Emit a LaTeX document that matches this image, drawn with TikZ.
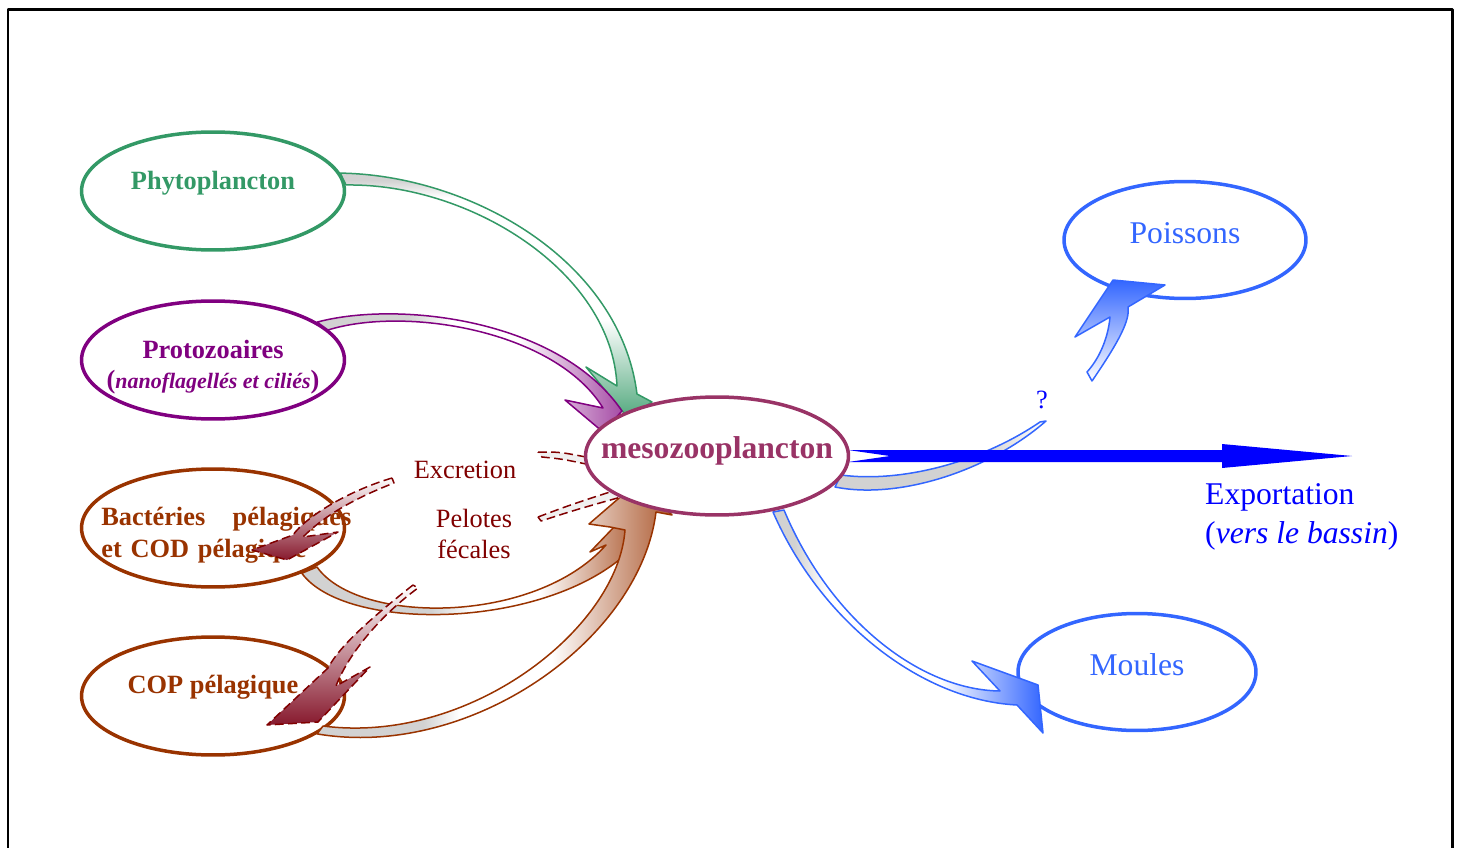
\documentclass[tikz,border=0pt]{standalone}
\usepackage{fontspec}
\setmainfont{Liberation Serif}
\usepackage{tikz}
\usetikzlibrary{shapes.geometric}
\definecolor{phytogreen}{RGB}{51,153,102}
\definecolor{protopurple}{RGB}{128,0,128}
\definecolor{bactbrown}{RGB}{153,51,0}
\definecolor{mesorose}{RGB}{153,51,102}
\definecolor{fishblue}{RGB}{51,102,255}
\definecolor{exportblue}{RGB}{0,0,255}
\definecolor{exred}{RGB}{128,0,0}
\definecolor{headred}{RGB}{135,25,45}
\pgfdeclareverticalshading{phytoflow}{100bp}{color(0bp)=(phytogreen!90); color(25bp)=(phytogreen!85); color(45bp)=(white); color(70bp)=(white); color(73.5bp)=(gray!35); color(100bp)=(gray!35)}
\pgfdeclarehorizontalshading{protoflow}{100bp}{color(0bp)=(gray!35); color(40bp)=(gray!35); color(47bp)=(white); color(58bp)=(white); color(75bp)=(protopurple!70); color(100bp)=(protopurple!70)}
\pgfdeclarehorizontalshading{bactflow}{100bp}{color(0bp)=(gray!35); color(44bp)=(gray!35); color(50bp)=(white); color(60bp)=(white); color(75bp)=(bactbrown!80); color(100bp)=(bactbrown!80)}
\pgfdeclarehorizontalshading{copflow}{100bp}{color(0bp)=(gray!35); color(40bp)=(gray!35); color(45bp)=(white); color(58bp)=(white); color(75bp)=(bactbrown!80); color(100bp)=(bactbrown!80)}
\pgfdeclarehorizontalshading{moulflow}{100bp}{color(0bp)=(gray!35); color(29bp)=(gray!35); color(35bp)=(white); color(56bp)=(white); color(75bp)=(fishblue); color(100bp)=(fishblue)}
\pgfdeclarehorizontalshading{poisflow}{100bp}{color(0bp)=(gray!35); color(60bp)=(gray!35); color(75bp)=(white); color(100bp)=(white)}

\begin{document}
\begin{tikzpicture}[x=0.02cm,y=-0.02cm,line join=round]
  \tikzstyle{compart}=[ellipse,draw,line width=0.07cm,fill=white,minimum width=5.26cm,minimum height=2.36cm,inner sep=0pt]
  \tikzstyle{flow}=[line width=0.03cm,shade]
  \tikzstyle{rejet}=[draw=exred,line width=0.03cm,dash pattern=on 5pt off 2.5pt]
  \tikzstyle{bold}=[font=\fontsize{15}{18}\selectfont\bfseries]
  \tikzstyle{plain}=[font=\fontsize{15}{18}\selectfont,text=exred,align=center]
  \tikzstyle{large}=[font=\fontsize{18}{22}\selectfont]

  \useasboundingbox (0,0) rectangle (1461,848);
  \draw[line width=0.06cm] (8,848) -- (8,10) -- (1452,10) -- (1452,848);

  \node[compart,draw=phytogreen]  (phyto)    at (213,191) {};
  \node[compart,draw=protopurple] (proto)    at (213,360) {};
  \node[compart,draw=bactbrown]   (bact)     at (213,528) {};
  \node[compart,draw=bactbrown]   (cop)      at (213,696) {};
  \node[compart,draw=fishblue,minimum width=4.84cm,minimum height=2.34cm] (poissons) at (1185,240) {};
  \node[compart,draw=fishblue,minimum width=4.76cm,minimum height=2.34cm] (moules)   at (1137,672) {};

  \node[bold,text=phytogreen]  (phytotxt) at (213,183) {Phytoplancton};
  \node[bold,text=protopurple,align=center] (prototxt) at (213,367)
       {Protozoaires\\[-1pt](\textit{\fontsize{12.5}{14}\selectfont nanoflagellés et ciliés})};
  \node[bold,text=bactbrown,anchor=west,text width=5cm,align=left,inner sep=0pt] (bacttxt) at (101,535)
       {Bactéries\hfill pélagiques\hspace*{0.12cm}\\et COD pélagique};
  \node[bold,text=bactbrown]   (coptxt)   at (213,687) {COP pélagique};
  \node[large,text=fishblue]   (poistxt)  at (1185,233) {Poissons};
  \node[large,text=fishblue]   (moultxt)  at (1137,665) {Moules};
  \node[plain] (excr) at (465,470) {Excretion};
  \node[plain] (pelo) at (474,534) {Pelotes\\fécales};
  \node[large,text=exportblue,anchor=west,align=left] (export) at (1199,517) {Exportation\\(\textit{vers le bassin})};
  \node[font=\fontsize{15}{18}\selectfont,text=exportblue] (quest) at (1042,400) {?};

  \draw[flow,draw=phytogreen,shading=phytoflow]
    (phyto.8) .. controls (470,175) and (620,260) .. (637,394) -- (652,402) -- (628,418)
    -- (586,367) -- (617,386) .. controls (612,272) and (470,183) .. (346,185) -- cycle;
  \draw[flow,draw=protopurple,shading=protoflow]
    (proto.20) .. controls (400,300) and (560,320) .. (622,411) -- (603,432) -- (565,400)
    -- (603,408) .. controls (555,330) and (405,306) .. (328,330) -- cycle;
  \draw[flow,draw=bactbrown,shading=bactflow]
    (bact.-27) .. controls (345,632) and (540,630) .. (625,555) -- (642,540) -- (640,500)
    -- (590,552) -- (606,545) .. controls (535,625) and (358,625) .. (317,567) -- cycle;
  \draw[flow,draw=bactbrown,shading=copflow]
    (cop.-20) .. controls (470,760) and (640,640) .. (656,512) -- (672,515) -- (640,480)
    -- (589,524) -- (610,527) -- (625,530) .. controls (618,628) and (470,745) .. (323,726) -- cycle;

  \draw[flow,draw=fishblue,shading=moulflow]
    (773,512) .. controls (820,620) and (920,700) .. (1017,705) -- (1043,733) -- (1038,685)
    -- (972,661) -- (1000,691) .. controls (920,690) and (830,620) .. (784,510) -- cycle;
  \draw[flow,draw=fishblue,shading=poisflow]
    (835,487) .. controls (900,500) and (990,470) .. (1046,421) -- (1040,422)
    .. controls (980,463) and (900,483) .. (841,475) -- cycle;
  \draw[flow,draw=fishblue,bottom color=white,top color=fishblue]
    (1092,381) .. controls (1120,340) and (1130,320) .. (1128,307) -- (1165,285) -- (1113,280)
    -- (1075,337) -- (1110,317) .. controls (1108,340) and (1098,360) .. (1087,372) -- cycle;

  \draw[rejet,top color=white,bottom color=headred]
    (392,478) .. controls (345,492) and (305,518) .. (293,535) -- (252,550) -- (287,560)
    -- (338,532) -- (303,537) .. controls (322,518) and (350,500) .. (394,483) -- cycle;
  \draw[rejet,top color=white,bottom color=headred]
    (413,585) .. controls (375,615) and (340,645) .. (328,668) -- (267,725) -- (318,722)
    -- (370,667) -- (336,686) .. controls (350,650) and (385,612) .. (418,588) -- cycle;
  \draw[rejet,fill=gray!12]
    (538,452) .. controls (560,452) .. (586,457) -- (586,464) .. controls (562,459) .. (542,457) -- cycle;
  \draw[rejet,fill=gray!12]
    (538,517) .. controls (570,505) .. (613,491) -- (621,497) .. controls (575,510) .. (541,521) -- cycle;

  \fill[exportblue] (848,450) -- (1222,450) -- (1222,444) -- (1352,456) -- (1222,468)
    -- (1222,462) -- (848,462) -- (890,456) -- cycle;

  \node[compart,draw=mesorose] (meso) at (717,456) {};
  \node[font=\fontsize{18}{22}\selectfont\bfseries,text=mesorose] (mesotxt) at (717,451) {mesozooplancton};
\end{tikzpicture}
\end{document}
